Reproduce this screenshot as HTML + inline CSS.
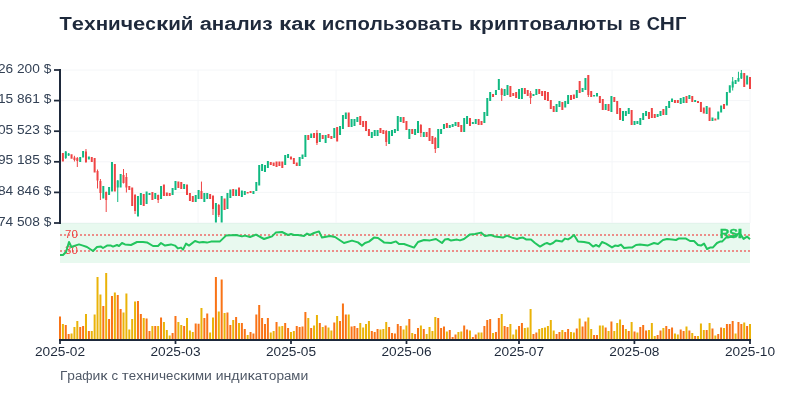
<!DOCTYPE html>
<html><head><meta charset="utf-8"><style>
html,body{margin:0;padding:0;background:#fff;}
body{width:800px;height:400px;overflow:hidden;}
svg{display:block;will-change:transform;font-family:"Liberation Sans", sans-serif;}
</style></head><body>
<svg width="800" height="400" viewBox="0 0 800 400">
<line x1="60" y1="70" x2="750" y2="70" stroke="#f4f6f8" stroke-width="1"/>
<line x1="60" y1="100.6" x2="750" y2="100.6" stroke="#f4f6f8" stroke-width="1"/>
<line x1="60" y1="131.2" x2="750" y2="131.2" stroke="#f4f6f8" stroke-width="1"/>
<line x1="60" y1="161.8" x2="750" y2="161.8" stroke="#f4f6f8" stroke-width="1"/>
<line x1="60" y1="192.4" x2="750" y2="192.4" stroke="#f4f6f8" stroke-width="1"/>
<line x1="60" y1="223" x2="750" y2="223" stroke="#f4f6f8" stroke-width="1"/>
<line x1="60" y1="70" x2="60" y2="223" stroke="#f4f6f8" stroke-width="1"/>
<line x1="198" y1="70" x2="198" y2="223" stroke="#f4f6f8" stroke-width="1"/>
<line x1="336" y1="70" x2="336" y2="223" stroke="#f4f6f8" stroke-width="1"/>
<line x1="474" y1="70" x2="474" y2="223" stroke="#f4f6f8" stroke-width="1"/>
<line x1="612" y1="70" x2="612" y2="223" stroke="#f4f6f8" stroke-width="1"/>
<line x1="750" y1="70" x2="750" y2="223" stroke="#f4f6f8" stroke-width="1"/>
<rect x="60" y="223" width="690" height="40" fill="#22c55e" fill-opacity="0.1"/>
<line x1="60" y1="235" x2="750" y2="235" stroke="#ef4444" stroke-opacity="0.6" stroke-width="2" stroke-dasharray="2,2"/>
<line x1="60" y1="251" x2="750" y2="251" stroke="#ef4444" stroke-opacity="0.6" stroke-width="2" stroke-dasharray="2,2"/>
<path d="M65.77 151V159M68.66 153V156M117.74 180V202M732.68 77V90.5M738.45 71.75V81.5M741.34 70V79" stroke="#10b981" stroke-width="1" fill="none"/>
<path d="M74.44 155.8V161.5M77.32 157V167M85.98 149V163M97.53 169.5V188.5M100.42 179V200M106.19 191.5V212M123.51 169V183.5M126.4 173V192.5M135.06 194V214M158.16 194.6V203M201.46 181.6V199M213.01 195V215M218.79 204V217M316.95 130V145M386.23 130V146M420.88 124V137M435.31 137V153M501.72 88V101M530.59 91V104M588.33 75V97" stroke="#ef4444" stroke-width="1" fill="none"/>
<path d="M59 155h2V161h-2ZM64.77 151.5h2V158h-2ZM67.66 153.5h2V155.5h-2ZM79.21 157h2V162h-2ZM82.1 151h2V157.5h-2ZM87.87 156.5h2V159.5h-2ZM102.31 186h2V198.5h-2ZM108.08 187h2V195h-2ZM110.97 162h2V191.5h-2ZM116.74 180.5h2V187.5h-2ZM119.63 174h2V187.5h-2ZM136.95 196h2V216.6h-2ZM139.84 193h2V205h-2ZM145.61 191.4h2V204h-2ZM148.5 193h2V195h-2ZM154.27 193h2V199h-2ZM160.05 186h2V199h-2ZM171.59 188h2V195h-2ZM174.48 181h2V190h-2ZM183.14 184h2V189h-2ZM194.69 195h2V202h-2ZM197.58 190h2V199h-2ZM203.35 193h2V202h-2ZM206.24 193h2V199h-2ZM214.9 203h2V222.6h-2ZM220.67 196h2V222.6h-2ZM226.45 193h2V209h-2ZM229.33 189.4h2V198h-2ZM235.11 189.4h2V196h-2ZM240.88 190.6h2V197h-2ZM243.77 191h2V195h-2ZM252.43 191h2V194h-2ZM255.32 182h2V191h-2ZM258.21 165h2V185.5h-2ZM261.09 164h2V171h-2ZM263.98 165h2V172h-2ZM266.87 161h2V168h-2ZM284.19 155h2V165h-2ZM287.08 154h2V158h-2ZM298.62 157h2V166h-2ZM301.51 154.4h2V159h-2ZM304.4 135h2V157h-2ZM310.17 133.6h2V138h-2ZM318.83 133h2V142h-2ZM324.61 135h2V143h-2ZM333.27 128h2V138h-2ZM339.04 126h2V135h-2ZM341.93 115h2V129h-2ZM344.82 112.4h2V119h-2ZM350.59 119h2V127h-2ZM353.48 119h2V126h-2ZM356.36 117h2V122h-2ZM370.8 132h2V138h-2ZM373.69 130h2V136h-2ZM376.57 130h2V136h-2ZM388.12 131h2V144h-2ZM391.01 130h2V136h-2ZM393.9 129h2V133h-2ZM396.78 116h2V131h-2ZM399.67 117h2V122h-2ZM408.33 129h2V139h-2ZM414.1 129h2V135h-2ZM416.99 121h2V133h-2ZM422.77 132h2V137h-2ZM437.2 129h2V148h-2ZM440.09 129h2V134h-2ZM442.97 124h2V129h-2ZM448.75 125h2V128h-2ZM451.64 124h2V127h-2ZM454.52 122h2V126h-2ZM463.18 118h2V132h-2ZM466.07 116h2V124h-2ZM471.85 122h2V124h-2ZM474.73 119h2V124h-2ZM483.39 112h2V123h-2ZM486.28 98h2V116h-2ZM489.17 92h2V101h-2ZM494.94 90h2V95h-2ZM497.83 79h2V90h-2ZM503.6 89h2V96h-2ZM506.49 85h2V95h-2ZM518.04 89h2V99h-2ZM520.92 88h2V99h-2ZM532.47 94h2V96h-2ZM535.36 89h2V95h-2ZM555.57 104h2V112h-2ZM558.46 101h2V107h-2ZM564.23 101h2V107.5h-2ZM567.12 95h2V104h-2ZM575.78 90h2V98h-2ZM581.55 88h2V92h-2ZM584.44 78h2V90h-2ZM593.1 95h2V96.6h-2ZM595.99 93h2V96.6h-2ZM604.65 104h2V110h-2ZM610.42 96h2V112h-2ZM621.97 111h2V121h-2ZM624.86 111h2V116h-2ZM627.74 108h2V114h-2ZM633.52 121h2V125h-2ZM636.41 121h2V124h-2ZM639.29 118h2V125h-2ZM642.18 113h2V120h-2ZM645.07 111h2V116h-2ZM656.62 114h2V117h-2ZM659.5 111h2V116h-2ZM665.28 106h2V115h-2ZM668.16 101h2V108h-2ZM671.05 98.6h2V102h-2ZM679.71 98h2V104h-2ZM682.6 97h2V103h-2ZM688.37 95h2V99h-2ZM694.15 100h2V102h-2ZM705.69 106h2V114h-2ZM711.47 117.5h2V121h-2ZM717.24 111.5h2V119.5h-2ZM720.13 105.5h2V112.5h-2ZM725.9 92h2V105.5h-2ZM728.79 85.25h2V92.75h-2ZM731.68 81.5h2V87.5h-2ZM734.56 80h2V84h-2ZM737.45 78h2V81.5h-2ZM740.34 73h2V78.5h-2ZM746.11 75.5h2V84.5h-2Z" fill="#10b981"/>
<path d="M61.89 153h2V161.5h-2ZM70.55 154.2h2V158.8h-2ZM73.44 157.5h2V160h-2ZM76.32 158h2V161h-2ZM84.98 151.5h2V162h-2ZM90.76 157h2V162h-2ZM93.64 158h2V172.5h-2ZM96.53 171h2V180.5h-2ZM99.42 181h2V193h-2ZM105.19 192h2V200h-2ZM113.85 164h2V191.5h-2ZM122.51 175h2V183h-2ZM125.4 177h2V187.5h-2ZM128.29 186h2V190h-2ZM131.18 187.4h2V206h-2ZM134.06 195h2V211h-2ZM142.72 194h2V206h-2ZM151.38 192h2V200h-2ZM157.16 195h2V200h-2ZM162.93 184.6h2V196h-2ZM165.82 192.6h2V196h-2ZM168.71 193h2V196h-2ZM177.37 181.6h2V188h-2ZM180.26 182h2V189h-2ZM186.03 184.6h2V195h-2ZM188.92 193h2V201h-2ZM191.8 196h2V202h-2ZM200.46 191h2V199h-2ZM209.13 194h2V199h-2ZM212.01 196h2V209h-2ZM217.79 205h2V215h-2ZM223.56 198.6h2V210h-2ZM232.22 189h2V196h-2ZM238 187.6h2V196h-2ZM246.66 192h2V193.4h-2ZM249.54 191h2V193h-2ZM269.75 162h2V165h-2ZM272.64 162.4h2V166h-2ZM275.53 161.6h2V167h-2ZM278.41 161.6h2V166h-2ZM281.3 161.6h2V168h-2ZM289.96 156.4h2V159.6h-2ZM292.85 158h2V164h-2ZM295.74 162.4h2V166h-2ZM307.28 135h2V140h-2ZM313.06 133h2V138h-2ZM315.95 133h2V143h-2ZM321.72 135h2V139h-2ZM327.49 134h2V138h-2ZM330.38 136h2V139h-2ZM336.15 127h2V141.6h-2ZM347.7 112.4h2V127h-2ZM359.25 116h2V125h-2ZM362.14 121h2V127h-2ZM365.03 121h2V131h-2ZM367.91 129h2V136h-2ZM379.46 128h2V133h-2ZM382.35 130h2V134h-2ZM385.23 131h2V142h-2ZM402.56 117h2V123h-2ZM405.44 121h2V130h-2ZM411.22 129h2V134h-2ZM419.88 125h2V133h-2ZM425.65 132h2V137h-2ZM428.54 128h2V141h-2ZM431.43 136h2V144h-2ZM434.31 138h2V149h-2ZM445.86 123h2V128h-2ZM457.41 122h2V127h-2ZM460.3 125h2V132h-2ZM468.96 118h2V126h-2ZM477.62 119h2V125h-2ZM480.51 121h2V125h-2ZM492.05 94h2V97h-2ZM500.72 89h2V95h-2ZM509.38 86h2V97h-2ZM512.26 93h2V96h-2ZM515.15 92h2V98h-2ZM523.81 88h2V94h-2ZM526.7 90h2V96h-2ZM529.59 93h2V98h-2ZM538.25 89h2V94h-2ZM541.13 91h2V96h-2ZM544.02 91h2V100h-2ZM546.91 92h2V101h-2ZM549.79 100h2V109h-2ZM552.68 106h2V112h-2ZM561.34 102h2V110h-2ZM570 95h2V100h-2ZM572.89 94.6h2V99h-2ZM578.67 81h2V93h-2ZM587.33 75h2V95h-2ZM590.21 91h2V97h-2ZM598.87 96h2V103h-2ZM601.76 99h2V110h-2ZM607.54 104h2V111h-2ZM613.31 97h2V102h-2ZM616.2 101h2V114h-2ZM619.08 108h2V120h-2ZM630.63 110h2V125h-2ZM647.95 112h2V119h-2ZM650.84 108h2V118h-2ZM653.73 114h2V118h-2ZM662.39 109h2V115h-2ZM673.94 100h2V103h-2ZM676.82 100h2V103h-2ZM685.49 96h2V103h-2ZM691.26 96h2V102h-2ZM697.03 101h2V103h-2ZM699.92 102h2V112h-2ZM702.81 107.5h2V113.5h-2ZM708.58 107.5h2V121h-2ZM714.36 118.5h2V120.5h-2ZM723.02 104h2V109h-2ZM743.23 73h2V87h-2ZM749 77h2V89h-2Z" fill="#ef4444"/>
<g font-size="10" fill="#ef4444"><text x="65.1" y="237.8" textLength="6.36" lengthAdjust="spacingAndGlyphs">7</text><text x="71.46" y="237.8" textLength="6.36" lengthAdjust="spacingAndGlyphs">0</text></g>
<g font-size="10" fill="#ef4444"><text x="65.1" y="253.8" textLength="6.36" lengthAdjust="spacingAndGlyphs">3</text><text x="71.46" y="253.8" textLength="6.36" lengthAdjust="spacingAndGlyphs">0</text></g>
<path d="M60 255 L63 255 L66 252 L69 242 L71.4 247 L75 245.6 L79 244.4 L83 245.6 L87 247 L93 251 L97 247 L101 246.6 L103 248 L107 245.6 L111 245.6 L113 246.6 L117 245 L119 246 L122 243 L125 244.4 L131 245 L137 242 L143 242 L147 242.4 L153 246 L158 246 L161 243 L165 245.6 L171 244.4 L175 245.6 L178 248.4 L181 247.6 L183 249.6 L186 243.6 L189 245.6 L195 241 L199 242.4 L203 242 L207 242.6 L211 241.6 L220 241.4 L226 235.6 L236 235 L242 236.4 L245 235.6 L250 237 L256 234.6 L264 239 L270 237 L272 236.4 L276 232.4 L282 232 L288 235 L291 234 L294 235 L298 235 L304 236 L307 233.6 L310 235 L314 233 L319 231.4 L322 237.6 L330 236 L335 237 L344 243 L352 240.6 L358 242.4 L362 245.6 L365 243 L369 241.6 L374 237.6 L378 238 L384 242.4 L391 243 L396 241.4 L399 244 L404 244 L414 247.6 L418 242 L424 240 L430 240.4 L436 239 L442 243 L445 239.4 L448 239 L451 240.6 L457 239.6 L460 240.4 L464 239 L470 234.4 L475 234 L481 232.6 L485 236 L491 235 L495 236.6 L503 237.6 L507 235.6 L512 237.6 L517 239 L520 238 L523 237.6 L526 239.4 L531 239.6 L535 243 L540 246.6 L545 243.6 L547 243 L550 244.4 L553 243 L556 240.4 L562 241.4 L565 238.6 L568 239.4 L571 237.6 L574 235 L578 241.6 L584 242 L589 243 L593 246.6 L596 245 L599 246.6 L602 242 L606 243.6 L612 247.4 L615 245.6 L618 246 L621 244.6 L624 248 L629 247.4 L632 247.6 L636 245 L640 244.4 L648 245.4 L654 243 L658 244 L663 240 L667 239 L672 239.6 L676 240 L679 238.4 L686 238.6 L690 241 L694 241 L698 245 L701 245.6 L704 243.6 L707 249 L710 247.6 L713 247.4 L717 243 L720 241.6 L722 241.6 L726 237.6 L730 237 L735 235.6 L739.6 233 L743.6 238.9 L747 236.6 L750 239.3" stroke="#22c55e" stroke-width="2" fill="none" stroke-linejoin="round"/>
<g font-size="12" fill="#22c55e" font-weight="bold" stroke="#22c55e" stroke-width="0.4"><text x="719.95" y="237.7" textLength="9.24" lengthAdjust="spacingAndGlyphs">R</text><text x="729.19" y="237.7" textLength="8.64" lengthAdjust="spacingAndGlyphs">S</text><text x="737.84" y="237.7" textLength="4.46" lengthAdjust="spacingAndGlyphs">I</text></g>
<path d="M59 316.6h2V340h-2ZM64.77 325h2V340h-2ZM67.66 334h2V340h-2ZM79.21 327h2V340h-2ZM82.1 326h2V340h-2ZM87.87 331h2V340h-2ZM102.31 306h2V340h-2ZM108.08 319h2V340h-2ZM110.97 296h2V340h-2ZM116.74 295h2V340h-2ZM119.63 309h2V340h-2ZM136.95 301h2V340h-2ZM139.84 314h2V340h-2ZM145.61 318.6h2V340h-2ZM148.5 331h2V340h-2ZM154.27 326h2V340h-2ZM160.05 317.4h2V340h-2ZM171.59 333h2V340h-2ZM174.48 316h2V340h-2ZM183.14 326h2V340h-2ZM194.69 323.4h2V340h-2ZM197.58 323.8h2V340h-2ZM203.35 318h2V340h-2ZM206.24 313.4h2V340h-2ZM214.9 277h2V340h-2ZM220.67 279.4h2V340h-2ZM226.45 312.4h2V340h-2ZM229.33 325h2V340h-2ZM235.11 317h2V340h-2ZM240.88 323h2V340h-2ZM243.77 329h2V340h-2ZM249.54 332h2V340h-2ZM252.43 333.4h2V340h-2ZM255.32 314.4h2V340h-2ZM258.21 305h2V340h-2ZM261.09 318h2V340h-2ZM263.98 324h2V340h-2ZM266.87 318h2V340h-2ZM275.53 322h2V340h-2ZM284.19 323h2V340h-2ZM287.08 328h2V340h-2ZM295.74 326h2V340h-2ZM298.62 327h2V340h-2ZM301.51 326.6h2V340h-2ZM304.4 312h2V340h-2ZM310.17 328h2V340h-2ZM318.83 323h2V340h-2ZM324.61 325.4h2V340h-2ZM333.27 322.6h2V340h-2ZM339.04 321h2V340h-2ZM341.93 303.4h2V340h-2ZM344.82 314.6h2V340h-2ZM350.59 326.6h2V340h-2ZM353.48 326h2V340h-2ZM356.36 328h2V340h-2ZM370.8 331h2V340h-2ZM373.69 332h2V340h-2ZM376.57 329h2V340h-2ZM388.12 327h2V340h-2ZM391.01 333h2V340h-2ZM393.9 333.4h2V340h-2ZM396.78 324h2V340h-2ZM399.67 326h2V340h-2ZM408.33 319h2V340h-2ZM414.1 334h2V340h-2ZM416.99 328h2V340h-2ZM422.77 329h2V340h-2ZM437.2 318h2V340h-2ZM440.09 328h2V340h-2ZM442.97 326.6h2V340h-2ZM448.75 330h2V340h-2ZM451.64 337h2V340h-2ZM454.52 334.6h2V340h-2ZM463.18 325.6h2V340h-2ZM466.07 329.4h2V340h-2ZM471.85 337h2V340h-2ZM474.73 334.6h2V340h-2ZM483.39 326h2V340h-2ZM486.28 320h2V340h-2ZM489.17 319h2V340h-2ZM494.94 332h2V340h-2ZM497.83 318h2V340h-2ZM503.6 326h2V340h-2ZM506.49 327h2V340h-2ZM518.04 326h2V340h-2ZM520.92 323h2V340h-2ZM532.47 334h2V340h-2ZM535.36 332.6h2V340h-2ZM555.57 334h2V340h-2ZM558.46 332h2V340h-2ZM564.23 332h2V340h-2ZM567.12 329h2V340h-2ZM575.78 328.4h2V340h-2ZM581.55 326.6h2V340h-2ZM584.44 321.4h2V340h-2ZM593.1 335h2V340h-2ZM595.99 335h2V340h-2ZM604.65 327.4h2V340h-2ZM610.42 321.4h2V340h-2ZM621.97 325h2V340h-2ZM627.74 331h2V340h-2ZM633.52 331.4h2V340h-2ZM639.29 327h2V340h-2ZM642.18 325h2V340h-2ZM645.07 330.6h2V340h-2ZM656.62 335h2V340h-2ZM659.5 330.6h2V340h-2ZM665.28 326h2V340h-2ZM668.16 329h2V340h-2ZM671.05 327.6h2V340h-2ZM679.71 329.4h2V340h-2ZM682.6 331h2V340h-2ZM688.37 330.6h2V340h-2ZM694.15 336h2V340h-2ZM705.69 330h2V340h-2ZM711.47 328.6h2V340h-2ZM717.24 334h2V340h-2ZM720.13 327.4h2V340h-2ZM725.9 324h2V340h-2ZM728.79 324h2V340h-2ZM731.68 321h2V340h-2ZM737.45 322h2V340h-2ZM740.34 324h2V340h-2ZM746.11 326h2V340h-2Z" fill="#f97316"/>
<path d="M61.89 324h2V340h-2ZM70.55 333.4h2V340h-2ZM73.44 327h2V340h-2ZM76.32 321h2V340h-2ZM84.98 314h2V340h-2ZM90.76 331h2V340h-2ZM93.64 314.6h2V340h-2ZM96.53 277h2V340h-2ZM99.42 294.4h2V340h-2ZM105.19 273h2V340h-2ZM113.85 292.6h2V340h-2ZM122.51 312.4h2V340h-2ZM125.4 293.4h2V340h-2ZM128.29 329.4h2V340h-2ZM131.18 319h2V340h-2ZM134.06 301.6h2V340h-2ZM142.72 318h2V340h-2ZM151.38 326h2V340h-2ZM157.16 326h2V340h-2ZM162.93 322h2V340h-2ZM165.82 330h2V340h-2ZM168.71 335.4h2V340h-2ZM177.37 322h2V340h-2ZM180.26 325h2V340h-2ZM186.03 318h2V340h-2ZM188.92 330.6h2V340h-2ZM191.8 332h2V340h-2ZM200.46 308h2V340h-2ZM209.13 332.6h2V340h-2ZM212.01 317.4h2V340h-2ZM217.79 311.6h2V340h-2ZM223.56 313h2V340h-2ZM232.22 320h2V340h-2ZM238 323h2V340h-2ZM246.66 335h2V340h-2ZM269.75 332.6h2V340h-2ZM272.64 331h2V340h-2ZM278.41 326.4h2V340h-2ZM281.3 326h2V340h-2ZM289.96 332h2V340h-2ZM292.85 331h2V340h-2ZM307.28 318h2V340h-2ZM313.06 325.4h2V340h-2ZM315.95 315h2V340h-2ZM321.72 327h2V340h-2ZM327.49 327.4h2V340h-2ZM330.38 330.6h2V340h-2ZM336.15 316h2V340h-2ZM347.7 314.6h2V340h-2ZM359.25 323h2V340h-2ZM362.14 327.4h2V340h-2ZM365.03 324h2V340h-2ZM367.91 321h2V340h-2ZM379.46 329.4h2V340h-2ZM382.35 329h2V340h-2ZM385.23 322h2V340h-2ZM402.56 329.4h2V340h-2ZM405.44 325.6h2V340h-2ZM411.22 333h2V340h-2ZM419.88 325.6h2V340h-2ZM425.65 334h2V340h-2ZM428.54 327h2V340h-2ZM431.43 331h2V340h-2ZM434.31 317h2V340h-2ZM445.86 331.6h2V340h-2ZM457.41 332h2V340h-2ZM460.3 331.6h2V340h-2ZM468.96 330.4h2V340h-2ZM477.62 332.4h2V340h-2ZM480.51 332.6h2V340h-2ZM492.05 333h2V340h-2ZM500.72 314h2V340h-2ZM509.38 324h2V340h-2ZM512.26 334.6h2V340h-2ZM515.15 329.4h2V340h-2ZM523.81 328h2V340h-2ZM526.7 327.4h2V340h-2ZM529.59 309h2V340h-2ZM538.25 329h2V340h-2ZM541.13 328h2V340h-2ZM544.02 327.4h2V340h-2ZM546.91 326h2V340h-2ZM549.79 320h2V340h-2ZM552.68 330.6h2V340h-2ZM561.34 330h2V340h-2ZM570 332h2V340h-2ZM572.89 332.4h2V340h-2ZM578.67 318.6h2V340h-2ZM587.33 317.4h2V340h-2ZM590.21 329h2V340h-2ZM598.87 325.6h2V340h-2ZM601.76 325.4h2V340h-2ZM607.54 331h2V340h-2ZM613.31 331h2V340h-2ZM616.2 323h2V340h-2ZM619.08 319.6h2V340h-2ZM624.86 329h2V340h-2ZM630.63 322h2V340h-2ZM636.41 332.4h2V340h-2ZM647.95 330h2V340h-2ZM650.84 323h2V340h-2ZM653.73 336h2V340h-2ZM662.39 328h2V340h-2ZM673.94 333.4h2V340h-2ZM676.82 334.6h2V340h-2ZM685.49 326.6h2V340h-2ZM691.26 333h2V340h-2ZM697.03 336h2V340h-2ZM699.92 323.4h2V340h-2ZM702.81 330h2V340h-2ZM708.58 323h2V340h-2ZM714.36 335.4h2V340h-2ZM723.02 328h2V340h-2ZM734.56 333.4h2V340h-2ZM743.23 322.6h2V340h-2ZM749 324h2V340h-2Z" fill="#eab308"/>
<path d="M60 69V224" stroke="#1e293b" stroke-width="2" fill="none"/>
<path d="M54 70H60" stroke="#1e293b" stroke-width="1.75"/>
<g font-size="12" fill="#334155"><text x="-9.77" y="72.5" textLength="7.63" lengthAdjust="spacingAndGlyphs">1</text><text x="-2.14" y="72.5" textLength="7.63" lengthAdjust="spacingAndGlyphs">2</text><text x="5.5" y="72.5" textLength="7.63" lengthAdjust="spacingAndGlyphs">6</text><text x="16.95" y="72.5" textLength="7.63" lengthAdjust="spacingAndGlyphs">2</text><text x="24.58" y="72.5" textLength="7.63" lengthAdjust="spacingAndGlyphs">0</text><text x="32.22" y="72.5" textLength="7.63" lengthAdjust="spacingAndGlyphs">0</text><text x="43.67" y="72.5" textLength="7.63" lengthAdjust="spacingAndGlyphs">$</text></g>
<path d="M54 100.6H60" stroke="#1e293b" stroke-width="1.75"/>
<g font-size="12" fill="#334155"><text x="-9.77" y="103.1" textLength="7.63" lengthAdjust="spacingAndGlyphs">1</text><text x="-2.14" y="103.1" textLength="7.63" lengthAdjust="spacingAndGlyphs">1</text><text x="5.5" y="103.1" textLength="7.63" lengthAdjust="spacingAndGlyphs">5</text><text x="16.95" y="103.1" textLength="7.63" lengthAdjust="spacingAndGlyphs">8</text><text x="24.58" y="103.1" textLength="7.63" lengthAdjust="spacingAndGlyphs">6</text><text x="32.22" y="103.1" textLength="7.63" lengthAdjust="spacingAndGlyphs">1</text><text x="43.67" y="103.1" textLength="7.63" lengthAdjust="spacingAndGlyphs">$</text></g>
<path d="M54 131.2H60" stroke="#1e293b" stroke-width="1.75"/>
<g font-size="12" fill="#334155"><text x="-9.77" y="133.7" textLength="7.63" lengthAdjust="spacingAndGlyphs">1</text><text x="-2.14" y="133.7" textLength="7.63" lengthAdjust="spacingAndGlyphs">0</text><text x="5.5" y="133.7" textLength="7.63" lengthAdjust="spacingAndGlyphs">5</text><text x="16.95" y="133.7" textLength="7.63" lengthAdjust="spacingAndGlyphs">5</text><text x="24.58" y="133.7" textLength="7.63" lengthAdjust="spacingAndGlyphs">2</text><text x="32.22" y="133.7" textLength="7.63" lengthAdjust="spacingAndGlyphs">3</text><text x="43.67" y="133.7" textLength="7.63" lengthAdjust="spacingAndGlyphs">$</text></g>
<path d="M54 161.8H60" stroke="#1e293b" stroke-width="1.75"/>
<g font-size="12" fill="#334155"><text x="-2.14" y="164.3" textLength="7.63" lengthAdjust="spacingAndGlyphs">9</text><text x="5.5" y="164.3" textLength="7.63" lengthAdjust="spacingAndGlyphs">5</text><text x="16.95" y="164.3" textLength="7.63" lengthAdjust="spacingAndGlyphs">1</text><text x="24.58" y="164.3" textLength="7.63" lengthAdjust="spacingAndGlyphs">8</text><text x="32.22" y="164.3" textLength="7.63" lengthAdjust="spacingAndGlyphs">5</text><text x="43.67" y="164.3" textLength="7.63" lengthAdjust="spacingAndGlyphs">$</text></g>
<path d="M54 192.4H60" stroke="#1e293b" stroke-width="1.75"/>
<g font-size="12" fill="#334155"><text x="-2.14" y="194.9" textLength="7.63" lengthAdjust="spacingAndGlyphs">8</text><text x="5.5" y="194.9" textLength="7.63" lengthAdjust="spacingAndGlyphs">4</text><text x="16.95" y="194.9" textLength="7.63" lengthAdjust="spacingAndGlyphs">8</text><text x="24.58" y="194.9" textLength="7.63" lengthAdjust="spacingAndGlyphs">4</text><text x="32.22" y="194.9" textLength="7.63" lengthAdjust="spacingAndGlyphs">6</text><text x="43.67" y="194.9" textLength="7.63" lengthAdjust="spacingAndGlyphs">$</text></g>
<path d="M54 223H60" stroke="#1e293b" stroke-width="1.75"/>
<g font-size="12" fill="#334155"><text x="-2.14" y="225.5" textLength="7.63" lengthAdjust="spacingAndGlyphs">7</text><text x="5.5" y="225.5" textLength="7.63" lengthAdjust="spacingAndGlyphs">4</text><text x="16.95" y="225.5" textLength="7.63" lengthAdjust="spacingAndGlyphs">5</text><text x="24.58" y="225.5" textLength="7.63" lengthAdjust="spacingAndGlyphs">0</text><text x="32.22" y="225.5" textLength="7.63" lengthAdjust="spacingAndGlyphs">8</text><text x="43.67" y="225.5" textLength="7.63" lengthAdjust="spacingAndGlyphs">$</text></g>
<path d="M59 340H751" stroke="#1e293b" stroke-width="2" fill="none"/>
<path d="M60 340V344" stroke="#1e293b" stroke-width="1.75"/>
<g font-size="12" fill="#1e293b"><text x="34.93" y="355.8" textLength="7.63" lengthAdjust="spacingAndGlyphs">2</text><text x="42.57" y="355.8" textLength="7.63" lengthAdjust="spacingAndGlyphs">0</text><text x="50.2" y="355.8" textLength="7.63" lengthAdjust="spacingAndGlyphs">2</text><text x="57.83" y="355.8" textLength="7.63" lengthAdjust="spacingAndGlyphs">5</text><text x="65.47" y="355.8" textLength="4.33" lengthAdjust="spacingAndGlyphs">-</text><text x="69.8" y="355.8" textLength="7.63" lengthAdjust="spacingAndGlyphs">0</text><text x="77.43" y="355.8" textLength="7.63" lengthAdjust="spacingAndGlyphs">2</text></g>
<path d="M175.5 340V344" stroke="#1e293b" stroke-width="1.75"/>
<g font-size="12" fill="#1e293b"><text x="150.43" y="355.8" textLength="7.63" lengthAdjust="spacingAndGlyphs">2</text><text x="158.07" y="355.8" textLength="7.63" lengthAdjust="spacingAndGlyphs">0</text><text x="165.7" y="355.8" textLength="7.63" lengthAdjust="spacingAndGlyphs">2</text><text x="173.33" y="355.8" textLength="7.63" lengthAdjust="spacingAndGlyphs">5</text><text x="180.97" y="355.8" textLength="4.33" lengthAdjust="spacingAndGlyphs">-</text><text x="185.3" y="355.8" textLength="7.63" lengthAdjust="spacingAndGlyphs">0</text><text x="192.93" y="355.8" textLength="7.63" lengthAdjust="spacingAndGlyphs">3</text></g>
<path d="M291 340V344" stroke="#1e293b" stroke-width="1.75"/>
<g font-size="12" fill="#1e293b"><text x="265.93" y="355.8" textLength="7.63" lengthAdjust="spacingAndGlyphs">2</text><text x="273.57" y="355.8" textLength="7.63" lengthAdjust="spacingAndGlyphs">0</text><text x="281.2" y="355.8" textLength="7.63" lengthAdjust="spacingAndGlyphs">2</text><text x="288.83" y="355.8" textLength="7.63" lengthAdjust="spacingAndGlyphs">5</text><text x="296.47" y="355.8" textLength="4.33" lengthAdjust="spacingAndGlyphs">-</text><text x="300.8" y="355.8" textLength="7.63" lengthAdjust="spacingAndGlyphs">0</text><text x="308.43" y="355.8" textLength="7.63" lengthAdjust="spacingAndGlyphs">5</text></g>
<path d="M406.5 340V344" stroke="#1e293b" stroke-width="1.75"/>
<g font-size="12" fill="#1e293b"><text x="381.43" y="355.8" textLength="7.63" lengthAdjust="spacingAndGlyphs">2</text><text x="389.07" y="355.8" textLength="7.63" lengthAdjust="spacingAndGlyphs">0</text><text x="396.7" y="355.8" textLength="7.63" lengthAdjust="spacingAndGlyphs">2</text><text x="404.33" y="355.8" textLength="7.63" lengthAdjust="spacingAndGlyphs">5</text><text x="411.97" y="355.8" textLength="4.33" lengthAdjust="spacingAndGlyphs">-</text><text x="416.3" y="355.8" textLength="7.63" lengthAdjust="spacingAndGlyphs">0</text><text x="423.93" y="355.8" textLength="7.63" lengthAdjust="spacingAndGlyphs">6</text></g>
<path d="M519 340V344" stroke="#1e293b" stroke-width="1.75"/>
<g font-size="12" fill="#1e293b"><text x="493.93" y="355.8" textLength="7.63" lengthAdjust="spacingAndGlyphs">2</text><text x="501.57" y="355.8" textLength="7.63" lengthAdjust="spacingAndGlyphs">0</text><text x="509.2" y="355.8" textLength="7.63" lengthAdjust="spacingAndGlyphs">2</text><text x="516.83" y="355.8" textLength="7.63" lengthAdjust="spacingAndGlyphs">5</text><text x="524.47" y="355.8" textLength="4.33" lengthAdjust="spacingAndGlyphs">-</text><text x="528.8" y="355.8" textLength="7.63" lengthAdjust="spacingAndGlyphs">0</text><text x="536.43" y="355.8" textLength="7.63" lengthAdjust="spacingAndGlyphs">7</text></g>
<path d="M634.4 340V344" stroke="#1e293b" stroke-width="1.75"/>
<g font-size="12" fill="#1e293b"><text x="609.33" y="355.8" textLength="7.63" lengthAdjust="spacingAndGlyphs">2</text><text x="616.97" y="355.8" textLength="7.63" lengthAdjust="spacingAndGlyphs">0</text><text x="624.6" y="355.8" textLength="7.63" lengthAdjust="spacingAndGlyphs">2</text><text x="632.23" y="355.8" textLength="7.63" lengthAdjust="spacingAndGlyphs">5</text><text x="639.87" y="355.8" textLength="4.33" lengthAdjust="spacingAndGlyphs">-</text><text x="644.2" y="355.8" textLength="7.63" lengthAdjust="spacingAndGlyphs">0</text><text x="651.83" y="355.8" textLength="7.63" lengthAdjust="spacingAndGlyphs">8</text></g>
<path d="M750 340V344" stroke="#1e293b" stroke-width="1.75"/>
<g font-size="12" fill="#1e293b"><text x="724.93" y="355.8" textLength="7.63" lengthAdjust="spacingAndGlyphs">2</text><text x="732.57" y="355.8" textLength="7.63" lengthAdjust="spacingAndGlyphs">0</text><text x="740.2" y="355.8" textLength="7.63" lengthAdjust="spacingAndGlyphs">2</text><text x="747.83" y="355.8" textLength="7.63" lengthAdjust="spacingAndGlyphs">5</text><text x="755.47" y="355.8" textLength="4.33" lengthAdjust="spacingAndGlyphs">-</text><text x="759.8" y="355.8" textLength="7.63" lengthAdjust="spacingAndGlyphs">1</text><text x="767.43" y="355.8" textLength="7.63" lengthAdjust="spacingAndGlyphs">0</text></g>
<g font-size="18" fill="#1e293b" font-weight="bold"><text x="59.6" y="30" textLength="12.28" lengthAdjust="spacingAndGlyphs">Т</text><text x="71.88" y="30" textLength="12.21" lengthAdjust="spacingAndGlyphs">е</text><text x="84.09" y="30" textLength="11.61" lengthAdjust="spacingAndGlyphs">х</text><text x="95.7" y="30" textLength="12.44" lengthAdjust="spacingAndGlyphs">н</text><text x="108.13" y="30" textLength="12.61" lengthAdjust="spacingAndGlyphs">и</text><text x="120.75" y="30" textLength="12.36" lengthAdjust="spacingAndGlyphs">ч</text><text x="133.1" y="30" textLength="12.21" lengthAdjust="spacingAndGlyphs">е</text><text x="145.31" y="30" textLength="10.67" lengthAdjust="spacingAndGlyphs">с</text><text x="155.98" y="30" textLength="12.22" lengthAdjust="spacingAndGlyphs">к</text><text x="168.2" y="30" textLength="12.61" lengthAdjust="spacingAndGlyphs">и</text><text x="180.81" y="30" textLength="12.61" lengthAdjust="spacingAndGlyphs">й</text><text x="199.69" y="30" textLength="12.15" lengthAdjust="spacingAndGlyphs">а</text><text x="211.84" y="30" textLength="12.44" lengthAdjust="spacingAndGlyphs">н</text><text x="224.27" y="30" textLength="12.15" lengthAdjust="spacingAndGlyphs">а</text><text x="236.42" y="30" textLength="13.18" lengthAdjust="spacingAndGlyphs">л</text><text x="249.6" y="30" textLength="12.61" lengthAdjust="spacingAndGlyphs">и</text><text x="262.21" y="30" textLength="10.46" lengthAdjust="spacingAndGlyphs">з</text><text x="278.94" y="30" textLength="12.22" lengthAdjust="spacingAndGlyphs">к</text><text x="291.16" y="30" textLength="12.15" lengthAdjust="spacingAndGlyphs">а</text><text x="303.3" y="30" textLength="12.22" lengthAdjust="spacingAndGlyphs">к</text><text x="321.79" y="30" textLength="12.61" lengthAdjust="spacingAndGlyphs">и</text><text x="334.4" y="30" textLength="10.67" lengthAdjust="spacingAndGlyphs">с</text><text x="345.07" y="30" textLength="12.44" lengthAdjust="spacingAndGlyphs">п</text><text x="357.51" y="30" textLength="12.37" lengthAdjust="spacingAndGlyphs">о</text><text x="369.87" y="30" textLength="13.18" lengthAdjust="spacingAndGlyphs">л</text><text x="383.06" y="30" textLength="11.38" lengthAdjust="spacingAndGlyphs">ь</text><text x="394.44" y="30" textLength="10.46" lengthAdjust="spacingAndGlyphs">з</text><text x="404.9" y="30" textLength="12.37" lengthAdjust="spacingAndGlyphs">о</text><text x="417.26" y="30" textLength="11.39" lengthAdjust="spacingAndGlyphs">в</text><text x="428.65" y="30" textLength="12.15" lengthAdjust="spacingAndGlyphs">а</text><text x="440.8" y="30" textLength="10.43" lengthAdjust="spacingAndGlyphs">т</text><text x="451.23" y="30" textLength="11.38" lengthAdjust="spacingAndGlyphs">ь</text><text x="468.88" y="30" textLength="12.22" lengthAdjust="spacingAndGlyphs">к</text><text x="481.1" y="30" textLength="12.88" lengthAdjust="spacingAndGlyphs">р</text><text x="493.98" y="30" textLength="12.61" lengthAdjust="spacingAndGlyphs">и</text><text x="506.59" y="30" textLength="12.44" lengthAdjust="spacingAndGlyphs">п</text><text x="519.03" y="30" textLength="10.43" lengthAdjust="spacingAndGlyphs">т</text><text x="529.46" y="30" textLength="12.37" lengthAdjust="spacingAndGlyphs">о</text><text x="541.83" y="30" textLength="11.39" lengthAdjust="spacingAndGlyphs">в</text><text x="553.22" y="30" textLength="12.15" lengthAdjust="spacingAndGlyphs">а</text><text x="565.37" y="30" textLength="13.18" lengthAdjust="spacingAndGlyphs">л</text><text x="578.55" y="30" textLength="17.5" lengthAdjust="spacingAndGlyphs">ю</text><text x="596.05" y="30" textLength="10.43" lengthAdjust="spacingAndGlyphs">т</text><text x="606.48" y="30" textLength="16.28" lengthAdjust="spacingAndGlyphs">ы</text><text x="629.03" y="30" textLength="11.39" lengthAdjust="spacingAndGlyphs">в</text><text x="646.68" y="30" textLength="13.21" lengthAdjust="spacingAndGlyphs">С</text><text x="659.89" y="30" textLength="15.06" lengthAdjust="spacingAndGlyphs">Н</text><text x="674.96" y="30" textLength="11.47" lengthAdjust="spacingAndGlyphs">Г</text></g>
<g font-size="12" fill="#4f5866"><text x="60" y="379.5" textLength="7.32" lengthAdjust="spacingAndGlyphs">Г</text><text x="67.32" y="379.5" textLength="7.62" lengthAdjust="spacingAndGlyphs">р</text><text x="74.94" y="379.5" textLength="7.35" lengthAdjust="spacingAndGlyphs">а</text><text x="82.29" y="379.5" textLength="10.26" lengthAdjust="spacingAndGlyphs">ф</text><text x="92.55" y="379.5" textLength="7.8" lengthAdjust="spacingAndGlyphs">и</text><text x="100.35" y="379.5" textLength="7.25" lengthAdjust="spacingAndGlyphs">к</text><text x="111.41" y="379.5" textLength="6.6" lengthAdjust="spacingAndGlyphs">с</text><text x="121.82" y="379.5" textLength="6.99" lengthAdjust="spacingAndGlyphs">т</text><text x="128.81" y="379.5" textLength="7.38" lengthAdjust="spacingAndGlyphs">е</text><text x="136.2" y="379.5" textLength="7.1" lengthAdjust="spacingAndGlyphs">х</text><text x="143.3" y="379.5" textLength="7.85" lengthAdjust="spacingAndGlyphs">н</text><text x="151.14" y="379.5" textLength="7.8" lengthAdjust="spacingAndGlyphs">и</text><text x="158.94" y="379.5" textLength="7.09" lengthAdjust="spacingAndGlyphs">ч</text><text x="166.03" y="379.5" textLength="7.38" lengthAdjust="spacingAndGlyphs">е</text><text x="173.41" y="379.5" textLength="6.6" lengthAdjust="spacingAndGlyphs">с</text><text x="180.01" y="379.5" textLength="7.25" lengthAdjust="spacingAndGlyphs">к</text><text x="187.26" y="379.5" textLength="7.8" lengthAdjust="spacingAndGlyphs">и</text><text x="195.06" y="379.5" textLength="9.05" lengthAdjust="spacingAndGlyphs">м</text><text x="204.11" y="379.5" textLength="7.8" lengthAdjust="spacingAndGlyphs">и</text><text x="215.72" y="379.5" textLength="7.8" lengthAdjust="spacingAndGlyphs">и</text><text x="223.52" y="379.5" textLength="7.85" lengthAdjust="spacingAndGlyphs">н</text><text x="231.37" y="379.5" textLength="8.3" lengthAdjust="spacingAndGlyphs">д</text><text x="239.67" y="379.5" textLength="7.8" lengthAdjust="spacingAndGlyphs">и</text><text x="247.46" y="379.5" textLength="7.25" lengthAdjust="spacingAndGlyphs">к</text><text x="254.71" y="379.5" textLength="7.35" lengthAdjust="spacingAndGlyphs">а</text><text x="262.07" y="379.5" textLength="6.99" lengthAdjust="spacingAndGlyphs">т</text><text x="269.06" y="379.5" textLength="7.34" lengthAdjust="spacingAndGlyphs">о</text><text x="276.4" y="379.5" textLength="7.62" lengthAdjust="spacingAndGlyphs">р</text><text x="284.02" y="379.5" textLength="7.35" lengthAdjust="spacingAndGlyphs">а</text><text x="291.37" y="379.5" textLength="9.05" lengthAdjust="spacingAndGlyphs">м</text><text x="300.42" y="379.5" textLength="7.8" lengthAdjust="spacingAndGlyphs">и</text></g>
</svg>
</body></html>
